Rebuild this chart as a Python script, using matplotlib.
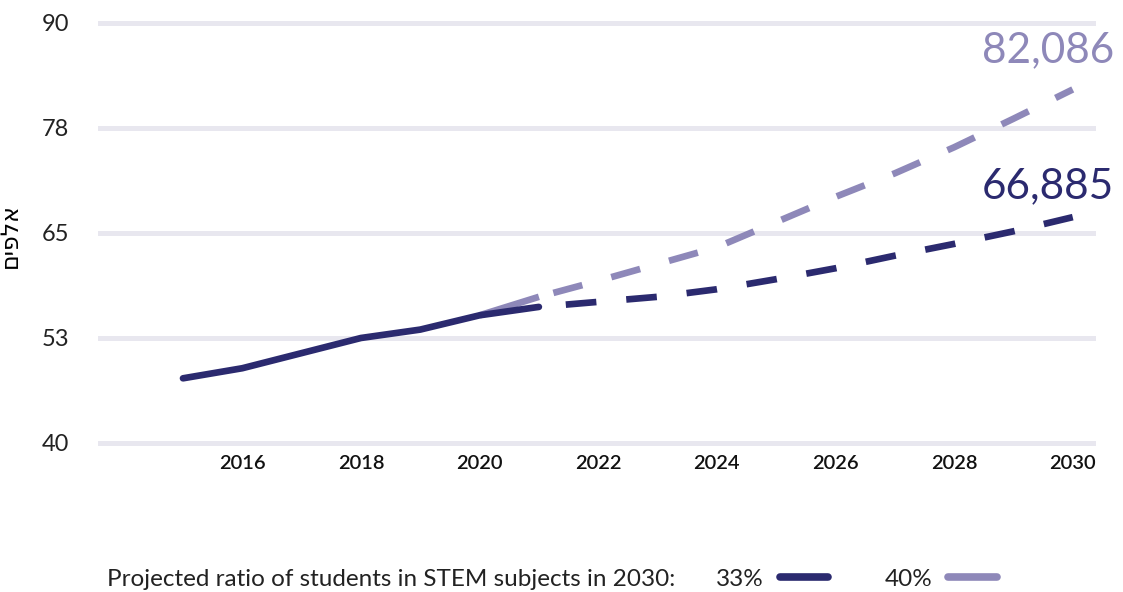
import matplotlib
matplotlib.use('Agg')
import matplotlib.pyplot as plt
from matplotlib.lines import Line2D

# data (thousands of students)
years_actual = [2015, 2016, 2017, 2018, 2019, 2020, 2021]
actual = [47.7, 48.9, 50.7, 52.5, 53.5, 55.2, 56.2]

years_proj = [2021, 2022, 2023, 2024, 2025, 2026, 2027, 2028, 2029, 2030]
proj_33 = [56.2, 56.8, 57.4, 58.3, 59.5, 60.8, 62.3, 63.7, 65.2, 66.885]
proj_40 = [57.4, 59.3, 61.3, 63.3, 66.3, 69.3, 72.1, 75.2, 78.6, 82.086]

y_ticks = [40, 52.5, 65, 77.5, 90]
y_tick_labels = ['40', '53', '65', '78', '90']
x_ticks = [2016, 2018, 2020, 2022, 2024, 2026, 2028, 2030]

legend_prefix = 'Projected ratio of students in STEM subjects in 2030:'
legend_labels = ['33%', '40%']
y_label = 'אלפים'

dark = '#2b2a6f'
purple = '#8e88b9'
grid_col = '#e8e7ef'
txt_col = '#222222'

plt.rcParams['font.family'] = ['Lato', 'DejaVu Sans']

fig = plt.figure(figsize=(11.23, 5.92), dpi=100)
ax = fig.add_axes([0.089, 0.2517, 0.8842, 0.7095])

for t in y_ticks:
  ax.axhline(t, color=grid_col, lw=3.6, zorder=0, clip_on=False)

# purple: hidden solid part under the dark line, then dashes
ax.plot([2020, 2021], [actual[-2], proj_40[0]], color=purple, lw=4.8,
        solid_capstyle='butt', zorder=1)
ax.plot(years_proj, proj_40, color=purple, lw=4.8, zorder=1,
        linestyle=(6.75, (4.5, 4.5)), dash_capstyle='butt')
ax.plot(years_actual, actual, color=dark, lw=4.8, zorder=3,
        solid_capstyle='round', solid_joinstyle='round')
ax.plot(years_proj, proj_33, color=dark, lw=4.8, zorder=2,
        linestyle=(5.05, (4.6, 4.5)), dash_capstyle='butt')

# end labels
ax.annotate(f'{proj_40[-1]*1000:,.0f}', (years_proj[-1], proj_40[-1]),
            xytext=(30, 28), textcoords='offset points', ha='right', va='center',
            fontsize=30.5, color=purple, annotation_clip=False)
ax.annotate(f'{proj_33[-1]*1000:,.0f}', (years_proj[-1], proj_33[-1]),
            xytext=(30, 22), textcoords='offset points', ha='right', va='center',
            fontsize=30.5, color=dark, annotation_clip=False)

ax.set_xlim(2013.6, 2030.34)
ax.set_ylim(40, 90)
ax.set_yticks(y_ticks)
ax.set_yticklabels(y_tick_labels, fontsize=17, color=txt_col)
ax.set_xticks(x_ticks)
ax.set_xticklabels([str(x) for x in x_ticks], fontsize=14.5, fontweight='semibold', color='#111111')
ax.tick_params(axis='y', length=0, pad=22)
ax.tick_params(axis='x', length=0, pad=9)
for s in ax.spines.values():
  s.set_visible(False)

# hebrew is drawn left-to-right, so reverse for visual order
ax.set_ylabel(y_label[::-1], fontsize=17, family=['DejaVu Sans'])
ax.yaxis.set_label_coords(-0.0785, 0.495)

# bottom legend
fig.text(107 / 1123, 1 - 579 / 592, legend_prefix, fontsize=17.5,
         color=txt_col, va='center', ha='left')
handles = [Line2D([], [], color=dark, lw=5.5, solid_capstyle='round'),
           Line2D([], [], color=purple, lw=5.5, solid_capstyle='round')]
fig.legend(handles, legend_labels, loc='center left',
           bbox_to_anchor=(716 / 1123, 1 - 579 / 592),
           ncol=2, frameon=False, markerfirst=False, fontsize=17.5, borderpad=0,
           borderaxespad=0, handlelength=2.0, handletextpad=0.66, columnspacing=2.3,
           labelcolor=txt_col)

fig.savefig('out.png', dpi=100)
